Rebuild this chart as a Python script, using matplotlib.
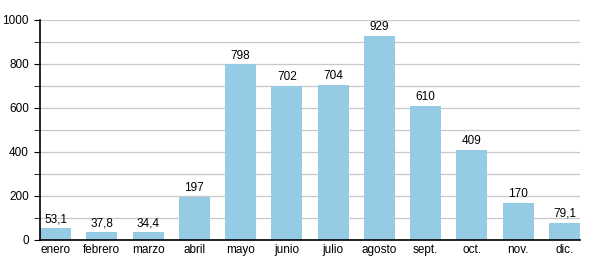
import matplotlib.pyplot as plt
import numpy as np

plt.rcParams['font.family'] = ['Liberation Sans', 'DejaVu Sans']

# Monthly values
months = ['enero', 'febrero', 'marzo', 'abril', 'mayo', 'junio',
          'julio', 'agosto', 'sept.', 'oct.', 'nov.', 'dic.']
values = [53.1, 37.8, 34.4, 197, 798, 702, 704, 929, 610, 409, 170, 79.1]
labels = ['53,1', '37,8', '34,4', '197', '798', '702',
          '704', '929', '610', '409', '170', '79,1']

fig = plt.figure(figsize=(6, 2.8), dpi=100)
ax = fig.add_axes([40/600, 40/280, 540/600, 220/280])

x = np.arange(len(months))
w = 0.67
ax.bar(x, values, width=w, color='#95cbe5', zorder=2)

for xi, v, lab in zip(x, values, labels):
    ax.text(xi, v + 12, lab, ha='center', va='bottom', fontsize=8.5)

ax.set_xlim(-w / 2, len(months) - 1 + w / 2)
ax.set_ylim(0, 1000)
ax.set_yticks(np.arange(0, 1001, 200))
ax.set_yticks(np.arange(0, 1001, 100), minor=True)
ax.set_xticks(x)
ax.set_xticklabels(months)
ax.tick_params(axis='x', length=0, labelsize=8.5, pad=3)
ax.tick_params(axis='y', which='both', length=4, labelsize=8.5, pad=4)
ax.grid(axis='y', which='both', color='#c8c8c8', linewidth=0.9, zorder=0)

ax.spines['top'].set_visible(False)
ax.spines['right'].set_visible(False)
ax.spines['left'].set_linewidth(1.2)
ax.spines['bottom'].set_linewidth(1.2)
ax.spines['left'].set_zorder(3)
ax.spines['bottom'].set_zorder(3)

fig.savefig('out.png', dpi=100)
